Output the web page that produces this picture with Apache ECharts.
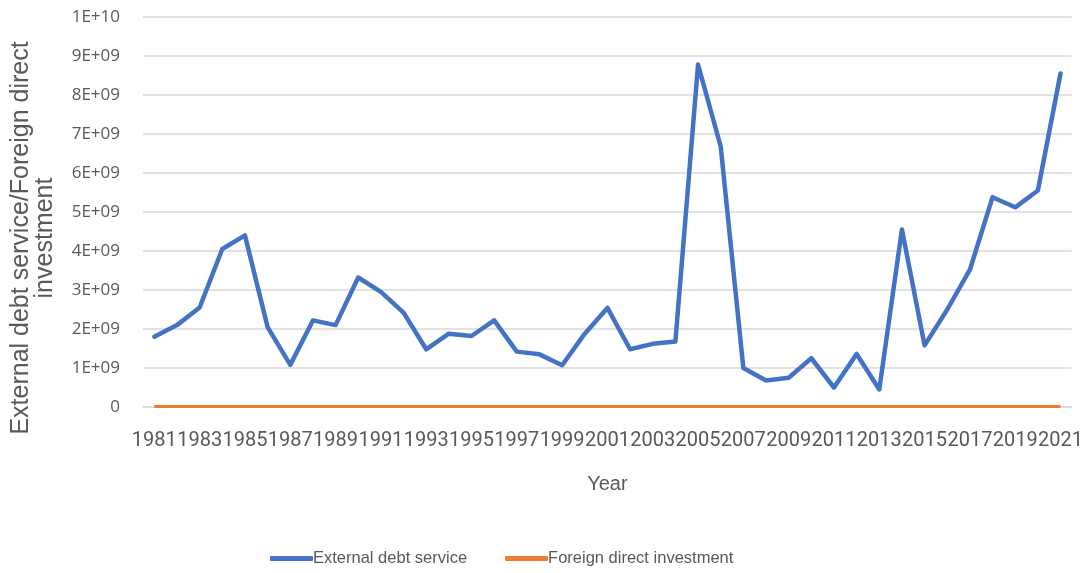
<!DOCTYPE html>
<html>
<head>
<meta charset="utf-8">
<script src="https://cdn.jsdelivr.net/npm/echarts@6/dist/echarts.min.js"></script>
<style>
  html, body { margin: 0; padding: 0; background: #fff; }
  #chart { width: 1086px; height: 573px; }
</style>
</head>
<body>
<div id="chart"></div>
<script>
var years = [];
for (var y = 1981; y <= 2021; y++) years.push(String(y));

// External debt service (US$)
var debtService = [
  1.80e9, 2.10e9, 2.55e9, 4.05e9, 4.40e9, 2.05e9, 1.08e9, 2.22e9, 2.10e9, 3.32e9,
  2.95e9, 2.42e9, 1.48e9, 1.88e9, 1.82e9, 2.22e9, 1.42e9, 1.35e9, 1.07e9, 1.88e9,
  2.54e9, 1.48e9, 1.62e9, 1.68e9, 8.78e9, 6.68e9, 1.00e9, 0.68e9, 0.75e9, 1.25e9,
  0.50e9, 1.36e9, 0.45e9, 4.55e9, 1.58e9, 2.50e9, 3.52e9, 5.38e9, 5.12e9, 5.55e9,
  8.55e9
];
// Foreign direct investment: sits on the zero line throughout
var fdi = [
  1e7, 1e7, 1e7, 1e7, 1e7, 1e7, 1e7, 1e7, 1e7, 1e7,
  1e7, 1e7, 1e7, 1e7, 1e7, 1e7, 1e7, 1e7, 1e7, 1e7,
  1e7, 1e7, 1e7, 1e7, 1e7, 1e7, 1e7, 1e7, 1e7, 1e7,
  1e7, 1e7, 1e7, 1e7, 1e7, 1e7, 1e7, 1e7, 1e7, 1e7,
  1e7
];
var yTicks = ['0', '1E+09', '2E+09', '3E+09', '4E+09', '5E+09', '6E+09', '7E+09', '8E+09', '9E+09', '1E+10'];

var sans = "'Liberation Sans', Arial, sans-serif";

var chart = echarts.init(document.getElementById('chart'));
chart.setOption({
  animation: false,
  grid: { left: 143, right: 14, top: 17, bottom: 166 },
  legend: {
    bottom: 1,
    left: 265,
    itemWidth: 43,
    itemHeight: 5,
    itemGap: 38,
    icon: 'roundRect',
    textStyle: { fontFamily: sans, fontSize: 16.5, color: '#595959', padding: [0, 0, 0, -5] },
    data: ['External debt service', 'Foreign direct investment']
  },
  graphic: [{
    type: 'text',
    x: 33,
    y: 238,
    rotation: Math.PI / 2,
    style: {
      text: 'External debt service/Foreign direct\ninvestment',
      fontFamily: sans,
      fontSize: 25,
      lineHeight: 24,
      fill: '#595959',
      align: 'center',
      verticalAlign: 'middle'
    }
  }],
  xAxis: {
    type: 'category',
    data: years,
    boundaryGap: true,
    name: 'Year',
    nameLocation: 'middle',
    nameGap: 67,
    nameTextStyle: { fontFamily: sans, fontSize: 20, color: '#595959' },
    axisLine: { lineStyle: { color: '#d9d9d9', width: 1.5 } },
    axisTick: { show: false },
    axisLabel: {
      interval: 1,
      showMinLabel: true,
      showMaxLabel: true,
      hideOverlap: false,
      fontFamily: 'Roboto, sans-serif',
      fontSize: 20,
      color: '#595959',
      margin: 24
    }
  },
  yAxis: {
    type: 'value',
    min: 0,
    max: 1e10,
    interval: 1e9,
    axisLine: { show: false },
    axisTick: { show: false },
    splitLine: { lineStyle: { color: '#d9d9d9', width: 1.5 } },
    axisLabel: {
      fontFamily: "'Open Sans', 'Liberation Sans', sans-serif",
      fontSize: 17,
      color: '#595959',
      margin: 23,
      formatter: function (v) { return yTicks[Math.round(v / 1e9)]; }
    }
  },
  series: [
    {
      name: 'External debt service',
      type: 'line',
      data: debtService,
      symbol: 'none',
      itemStyle: { color: '#4472C4' },
      lineStyle: { color: '#4472C4', width: 4.5, join: 'round', cap: 'round' }
    },
    {
      name: 'Foreign direct investment',
      type: 'line',
      data: fdi,
      symbol: 'none',
      itemStyle: { color: '#ED7D31' },
      lineStyle: { color: '#ED7D31', width: 3 }
    }
  ]
});
</script>
</body>
</html>
